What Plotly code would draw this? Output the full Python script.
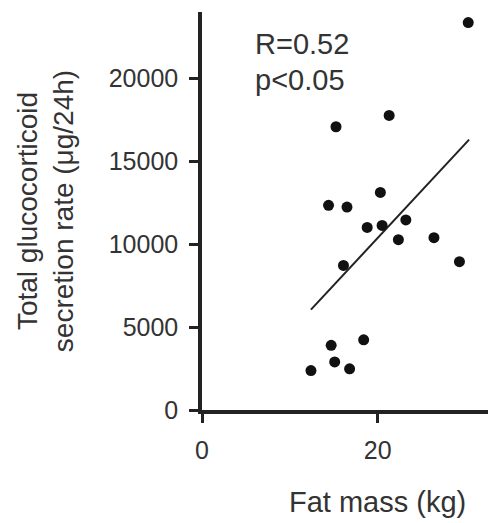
import plotly.graph_objects as go

fat_mass = [30.3, 15.25, 21.3, 14.4, 16.5, 20.3, 18.8, 20.5, 23.2, 22.35, 26.4, 29.3, 16.1, 14.7, 15.1, 18.4, 16.8, 12.4]
secretion = [23360, 17080, 17760, 12340, 12240, 13120, 11010, 11130, 11460, 10270, 10390, 8945, 8720, 3900, 2900, 4230, 2480, 2380]
fit_x = [12.4, 30.4]
fit_y = [6050, 16300]
y_ticks = [0, 5000, 10000, 15000, 20000]
x_ticks = [0, 20]

FONT = "Arial, Liberation Sans, sans-serif"
TXT = "#333333"
AX = "#222222"

fig = go.Figure()
fig.add_trace(go.Scatter(x=fit_x, y=fit_y, mode="lines",
                         line=dict(color=AX, width=2), showlegend=False, hoverinfo="skip"))
fig.add_trace(go.Scatter(x=fat_mass, y=secretion, mode="markers",
                         marker=dict(color="#111111", size=11), showlegend=False))

fig.update_layout(
    width=490, height=523,
    margin=dict(l=202, r=2, t=12, b=112.5),
    paper_bgcolor="white", plot_bgcolor="white",
    font=dict(family=FONT, color=TXT),
    xaxis=dict(range=[0, 32.55], tickvals=x_ticks, showgrid=False, zeroline=False,
               showline=True, linecolor=AX, linewidth=3.5,
               ticks="outside", ticklen=9, tickwidth=3, tickcolor=AX,
               tickfont=dict(size=25, color=TXT, family=FONT), ticklabelstandoff=6),
    yaxis=dict(range=[0, 24000], tickvals=y_ticks, ticktext=[str(v) for v in y_ticks],
               showgrid=False, zeroline=False,
               showline=True, linecolor=AX, linewidth=3.5,
               ticks="outside", ticklen=9, tickwidth=3, tickcolor=AX,
               tickfont=dict(size=25, color=TXT, family=FONT), ticklabelstandoff=6,
               title=dict(text="Total glucocorticoid<br>secretion rate (μg/24h)",
                          font=dict(size=28, color=TXT, family=FONT), standoff=28)),
    annotations=[
        dict(text="R=0.52", xref="paper", yref="paper", x=(253-202)/286, y=1-(44-12)/398.5,
             xanchor="left", yanchor="middle", showarrow=False,
             font=dict(size=29, color=TXT, family=FONT)),
        dict(text="p<0.05", xref="paper", yref="paper", x=(253-202)/286, y=1-(80-12)/398.5,
             xanchor="left", yanchor="middle", showarrow=False,
             font=dict(size=29, color=TXT, family=FONT)),
        dict(text="Fat mass (kg)", xref="paper", yref="paper", x=(377-202)/286, y=-(503-410.5)/398.5,
             xanchor="center", yanchor="middle", showarrow=False,
             font=dict(size=29, color=TXT, family=FONT)),
    ],
)

fig.write_html("out.html")
